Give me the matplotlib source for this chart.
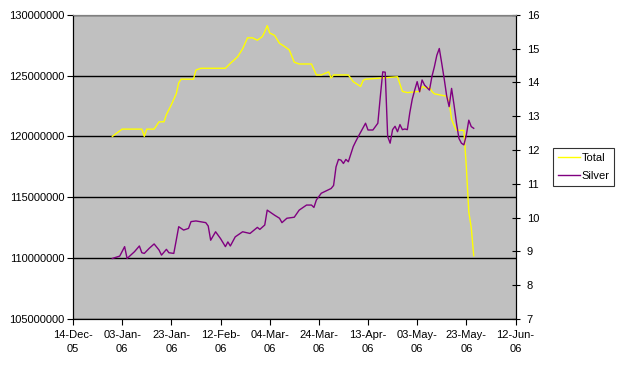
import pandas as pd
import matplotlib
matplotlib.use("Agg")
import matplotlib.pyplot as plt
from matplotlib.ticker import MultipleLocator, FuncFormatter

plt.rcParams['font.family'] = ['Liberation Sans', 'DejaVu Sans']
plt.rcParams['font.size'] = 8

# Total (left axis)
total_dates = ['2005-12-30', '2006-01-03', '2006-01-11', '2006-01-12', '2006-01-13',
               '2006-01-16', '2006-01-17', '2006-01-18', '2006-01-20', '2006-01-21',
               '2006-01-23', '2006-01-25', '2006-01-26', '2006-01-27', '2006-02-01',
               '2006-02-02', '2006-02-04', '2006-02-14', '2006-02-16', '2006-02-19',
               '2006-02-21', '2006-02-23', '2006-02-25', '2006-02-27', '2006-03-01',
               '2006-03-02', '2006-03-03', '2006-03-04', '2006-03-06', '2006-03-08',
               '2006-03-10', '2006-03-12', '2006-03-14', '2006-03-16', '2006-03-21',
               '2006-03-23', '2006-03-25', '2006-03-28', '2006-03-29', '2006-03-30',
               '2006-04-05', '2006-04-07', '2006-04-10', '2006-04-11', '2006-04-12',
               '2006-04-25', '2006-04-27', '2006-04-29', '2006-05-04', '2006-05-05',
               '2006-05-07', '2006-05-08', '2006-05-09', '2006-05-10', '2006-05-15',
               '2006-05-16', '2006-05-17', '2006-05-18', '2006-05-19', '2006-05-22',
               '2006-05-23', '2006-05-24', '2006-05-25', '2006-05-26']
total_vals = [120.0, 120.6, 120.6, 120.0, 120.6,
              120.6, 120.9, 121.2, 121.2, 121.8,
              122.6, 123.5, 124.4, 124.7, 124.7,
              125.45, 125.6, 125.6, 126.0, 126.55,
              127.2, 128.1, 128.1, 127.9, 128.2,
              128.6, 129.1, 128.5, 128.3, 127.65,
              127.4, 127.1, 126.1, 125.95, 125.95,
              125.05, 125.05, 125.3, 124.8, 125.05,
              125.05, 124.5, 124.1, 124.6, 124.7,
              124.9, 123.7, 123.6, 123.7, 124.1,
              123.95, 124.05, 123.7, 123.5, 123.3,
              122.85, 121.4, 120.9, 120.5, 120.5,
              117.5, 113.8, 112.5, 110.2]
total_vals = [v * 1e6 for v in total_vals]

# Silver (right axis)
silver_dates = ['2005-12-30', '2006-01-02', '2006-01-04', '2006-01-05', '2006-01-08',
                '2006-01-10', '2006-01-11', '2006-01-12', '2006-01-14', '2006-01-16',
                '2006-01-18', '2006-01-19', '2006-01-21', '2006-01-22', '2006-01-24',
                '2006-01-25', '2006-01-26', '2006-01-28', '2006-01-30', '2006-01-31',
                '2006-02-02', '2006-02-06', '2006-02-07', '2006-02-08', '2006-02-10',
                '2006-02-12', '2006-02-14', '2006-02-15', '2006-02-16', '2006-02-18',
                '2006-02-21', '2006-02-24', '2006-02-26', '2006-02-27', '2006-02-28',
                '2006-03-02', '2006-03-03', '2006-03-06', '2006-03-08', '2006-03-09',
                '2006-03-11', '2006-03-14', '2006-03-16', '2006-03-19', '2006-03-21',
                '2006-03-22', '2006-03-23', '2006-03-25', '2006-03-29', '2006-03-30',
                '2006-03-31', '2006-04-01', '2006-04-02', '2006-04-03', '2006-04-04',
                '2006-04-05', '2006-04-07', '2006-04-08', '2006-04-09', '2006-04-12',
                '2006-04-13', '2006-04-15', '2006-04-17', '2006-04-18', '2006-04-19',
                '2006-04-20', '2006-04-21', '2006-04-22', '2006-04-23', '2006-04-24',
                '2006-04-25', '2006-04-26', '2006-04-27', '2006-04-28', '2006-04-29',
                '2006-04-30', '2006-05-01', '2006-05-02', '2006-05-03', '2006-05-04',
                '2006-05-05', '2006-05-06', '2006-05-08', '2006-05-09', '2006-05-10',
                '2006-05-11', '2006-05-12', '2006-05-13', '2006-05-14', '2006-05-15',
                '2006-05-16', '2006-05-17', '2006-05-18', '2006-05-19', '2006-05-20',
                '2006-05-21', '2006-05-22', '2006-05-23', '2006-05-24', '2006-05-25',
                '2006-05-26']
silver_vals = [8.79, 8.86, 9.14, 8.79, 8.99,
               9.16, 8.96, 8.94, 9.09, 9.22,
               9.04, 8.89, 9.06, 8.96, 8.94,
               9.33, 9.73, 9.63, 9.68, 9.88,
               9.90, 9.85, 9.75, 9.33, 9.58,
               9.38, 9.14, 9.28, 9.16, 9.43,
               9.58, 9.53, 9.65, 9.71, 9.65,
               9.78, 10.22, 10.07, 9.98, 9.85,
               9.98, 10.01, 10.22, 10.37, 10.37,
               10.30, 10.52, 10.72, 10.86, 10.95,
               11.50, 11.72, 11.70, 11.60, 11.72,
               11.65, 12.10, 12.25, 12.39, 12.79,
               12.59, 12.59, 12.79, 13.57, 14.31,
               14.30, 12.40, 12.20, 12.60, 12.70,
               12.54, 12.75, 12.60, 12.62, 12.60,
               13.10, 13.50, 13.77, 14.02, 13.72,
               14.07, 13.92, 13.77, 14.17, 14.46,
               14.80, 15.00, 14.56, 14.10, 13.60,
               13.28, 13.82, 13.33, 12.79, 12.34,
               12.20, 12.15, 12.44, 12.88, 12.69,
               12.64]

total_x = pd.to_datetime(total_dates)
silver_x = pd.to_datetime(silver_dates)

fig = plt.figure(figsize=(6.19, 3.67), dpi=100)
ax = fig.add_axes([73 / 619, 1 - 319 / 367, (515.5 - 73) / 619, (319 - 14.7) / 367])
ax.set_facecolor('#c0c0c0')
ax2 = ax.twinx()

ax.plot(total_x, total_vals, color='#ffff00', lw=1.0, label='Total')
ax2.plot(silver_x, silver_vals, color='#800080', lw=1.0, label='Silver')

# x axis: a tick every 20 days
ax.set_xlim(pd.Timestamp('2005-12-14'), pd.Timestamp('2006-06-12'))
ticks = pd.date_range('2005-12-14', '2006-06-12', freq='20D')
ax.set_xticks(ticks)
ax.set_xticklabels([t.strftime('%d-%b-\n%y') for t in ticks], linespacing=1.5)

# left axis
ax.set_ylim(105e6, 130e6)
ax.yaxis.set_major_locator(MultipleLocator(5e6))
ax.yaxis.set_major_formatter(FuncFormatter(lambda v, p: '%d' % v))
ax.grid(axis='y', color='black', lw=1.0)
ax.set_axisbelow(True)

# right axis
ax2.set_ylim(7, 16)
ax2.yaxis.set_major_locator(MultipleLocator(1))

for a in (ax, ax2):
    for s in a.spines.values():
        s.set_color('black')
        s.set_linewidth(0.8)
    a.spines['top'].set_color('#808080')
ax.tick_params(axis='x', direction='out', length=4, width=0.8, pad=4)
ax.tick_params(axis='y', direction='out', length=4, width=0.8, pad=2)
ax2.tick_params(axis='y', direction='inout', length=6, width=0.8, pad=5)

h1, l1 = ax.get_legend_handles_labels()
h2, l2 = ax2.get_legend_handles_labels()
leg = fig.legend(h1 + h2, l1 + l2, loc='upper left',
                 bbox_to_anchor=(553 / 619, 1 - 148 / 367),
                 frameon=True, fancybox=False, edgecolor='black',
                 borderpad=0.45, handlelength=2.0, handletextpad=0.1,
                 labelspacing=0.75, borderaxespad=0)
leg.get_frame().set_linewidth(0.8)

fig.savefig('out.png', dpi=100)
